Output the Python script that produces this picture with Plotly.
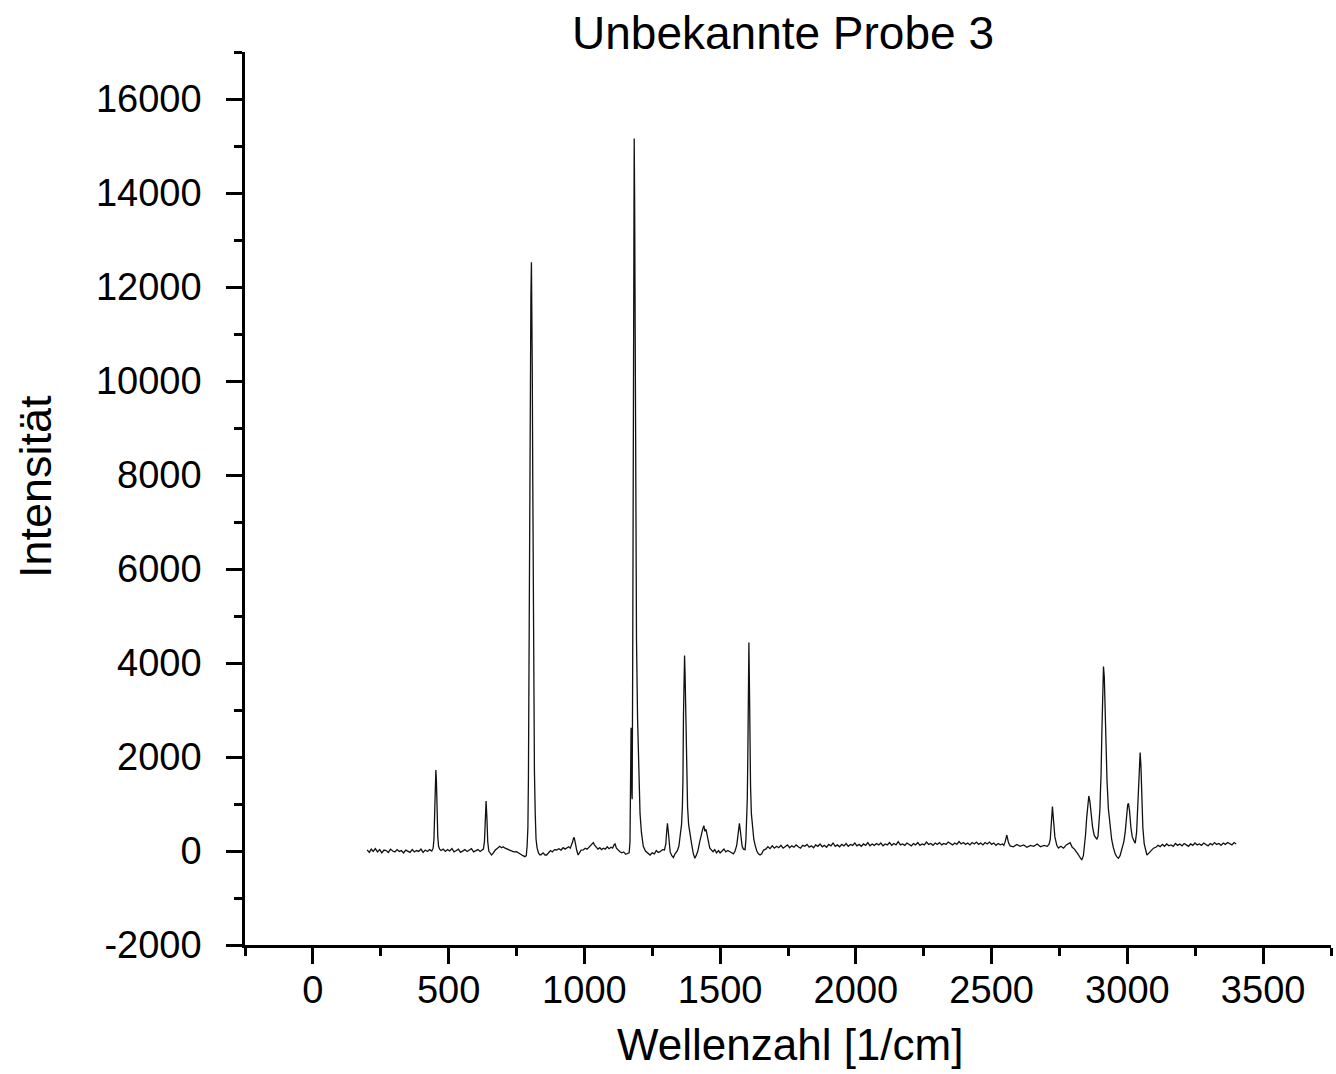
import plotly.graph_objects as go

# ---- Spectrum data (wavenumber in 1/cm, intensity) ----
wn_a = [200, 208, 215, 222, 230, 238, 246, 254, 262, 270, 278, 286, 294, 302, 310, 318, 326, 334, 342, 350,
        358, 366, 374, 382, 390, 398, 406, 414, 422, 430, 438,
        443, 446, 449, 451, 453, 455, 457, 460, 463, 467,
        472, 480, 488, 496, 504, 512, 520, 528, 536, 544, 552, 560, 568, 576, 584, 592, 600, 608, 616, 624,
        628, 632, 635, 638, 641, 644, 648, 653, 658,
        665, 672, 680, 688, 695, 701, 708, 716, 724, 732, 740, 750, 758, 766, 774, 781, 786]
int_a = [20, -30, 40, -10, 50, -20, 30, -40, 20, 10, -30, 40, 0, -20, 30, -10, 10, -40, 20, 0,
         -30, 30, -20, 10, -10, 40, -30, 20, -10, 30, 0,
         60, 250, 900, 1450, 1725, 1500, 900, 300, 100, 40,
         10, 40, -10, 30, 0, 50, -20, 20, 40, -30, 10, 30, -10, 20, 50, -20, 10, 30, -10, 20,
         40, 200, 700, 1065, 700, 200, 0, -60, -85,
         -40, 20, 60, 100, 70, 92, 60, 40, 20, 0, -20, -15, -50, -80, -100, -120, -100]

wn_b = [789, 792, 794, 795, 796, 797, 799, 801, 803, 805, 806, 808, 810, 812, 814, 816, 819, 822, 826, 831, 836,
        840, 848, 855, 861, 868, 875, 882, 890, 898, 906, 914, 922, 929, 935, 942, 948,
        953, 957, 960, 962, 965, 968, 972, 977,
        982, 988, 996, 1003, 1010, 1017, 1024, 1029, 1033, 1037, 1043, 1050, 1057, 1063, 1070, 1077, 1084,
        1091, 1098, 1104, 1109, 1113, 1118, 1124, 1131, 1138, 1145, 1152, 1160, 1165]
int_b = [100, 500, 1600, 3000, 4300, 4250, 7500, 10000, 11800, 12525, 12100, 10300, 7800, 5200, 3100, 1700, 800, 250, 60, -40, -80,
         -80, -40, -85, -85, -30, 10, -20, 30, 22, 50, 20, 70, 40, 60, 90, 60,
         120, 200, 270, 291, 220, 100, 10, -85,
         -30, 20, 22, 60, 40, 90, 120, 160, 180, 130, 80, 40, 70, 30, 60, 40, 90,
         50, 80, 60, 130, 150, 60, 20, -15, -40, -20, -70, -60, -40]

wn_c = [1168, 1170, 1172, 1173.5, 1175, 1176, 1178, 1180, 1182, 1183.5, 1185, 1187, 1189, 1192, 1196, 1200,
        1205, 1210, 1217, 1225, 1235, 1242, 1250, 1258, 1265, 1272, 1279, 1288, 1295,
        1300, 1303, 1306, 1309, 1312, 1316, 1322, 1328, 1334,
        1342, 1348, 1354, 1358, 1361, 1363, 1365, 1367, 1369, 1371, 1373, 1375, 1377, 1380, 1384, 1389,
        1395, 1401, 1407, 1413,
        1418, 1425, 1431, 1436, 1440, 1444, 1448, 1452, 1457, 1462, 1468, 1474, 1480, 1487, 1494, 1500,
        1507, 1514, 1521, 1528, 1536, 1542, 1549,
        1555, 1561, 1565, 1568, 1571, 1574, 1577, 1581, 1586, 1590,
        1592, 1595, 1598, 1600, 1602, 1604, 1606, 1608, 1610, 1612, 1615, 1619, 1624, 1629, 1635, 1641,
        1647, 1653, 1660]
int_c = [200, 1200, 2620, 2000, 1200, 1100, 4000, 9000, 13500, 15160, 14000, 11000, 7500, 4500, 2800, 1600,
         800, 400, 100, 0, -60, -85, -40, -60, 10, -30, -15, 30, 22,
         150, 400, 590, 420, 150, -20, -100, -140, -60,
         0, 100, 340, 570, 950, 1500, 2880, 3744, 4160, 3744, 2880, 2080, 1500, 950, 560, 330,
         150, -50, -155, -80,
         0, 200, 380, 470, 540, 420, 460, 300, 200, 60, 20, -15, 30, -40, 10, -40,
         0, 40, -20, 10, -15, -40, -60,
         0, 120, 300, 480, 590, 450, 250, 100, 40, 22,
         30, 250, 600, 1100, 2000, 3400, 4437, 3500, 2200, 1400, 800, 450, 250, 120, 0, -60,
         -85, -60, 20]

wn_d = [1668, 1676, 1684, 1692, 1700, 1708, 1716, 1724, 1732, 1740, 1748, 1756, 1764, 1772, 1780, 1788,
        1796, 1804, 1812, 1820, 1828, 1836, 1844, 1852, 1860, 1868, 1876, 1884, 1892, 1900, 1908, 1916,
        1924, 1932, 1940, 1948, 1956, 1964, 1972, 1980, 1988, 1996, 2004, 2012, 2020, 2028, 2036, 2044,
        2052, 2060, 2068, 2076, 2084, 2092, 2100, 2108, 2116, 2124, 2132, 2140, 2148, 2156, 2164, 2172,
        2180, 2188, 2196, 2204, 2212, 2220, 2228, 2236, 2244, 2252, 2260, 2268, 2276, 2284, 2292, 2300,
        2308, 2316, 2324, 2332, 2340, 2348, 2356, 2364, 2372, 2380, 2388, 2396, 2404, 2412, 2420, 2428,
        2436, 2444, 2452, 2460, 2468, 2476, 2484, 2492, 2500, 2508, 2516, 2524, 2532, 2540]
int_d = [40, 90, 50, 110, 60, 100, 70, 120, 60, 90, 130, 70, 110, 80, 130, 90,
         60, 120, 100, 140, 80, 110, 70, 130, 100, 150, 90, 120, 80, 140, 110, 170,
         100, 130, 90, 140, 110, 160, 100, 140, 120, 170, 110, 140, 100, 150, 120, 180,
         110, 150, 120, 160, 130, 170, 110, 150, 130, 180, 120, 160, 130, 200, 130, 150,
         120, 170, 140, 110, 160, 130, 180, 120, 150, 130, 190, 140, 160, 120, 170, 140,
         180, 130, 160, 140, 190, 150, 130, 170, 140, 200, 150, 180, 140, 170, 130, 180,
         150, 190, 140, 170, 130, 180, 150, 190, 140, 170, 120, 160, 130, 150]

wn_e = [2545, 2550, 2556, 2562, 2568, 2580, 2593, 2605, 2618, 2630, 2643, 2655, 2668, 2680, 2693, 2705, 2712,
        2716, 2720, 2724, 2728, 2733, 2740, 2746, 2755, 2765, 2775, 2789, 2797, 2805, 2815, 2825, 2832, 2838,
        2842, 2846, 2850, 2854, 2858, 2862, 2866, 2872, 2878, 2884, 2888, 2892, 2896,
        2899, 2901, 2903, 2906, 2909, 2912, 2915, 2918, 2921, 2925, 2930, 2936, 2942, 2948, 2955, 2962,
        2967, 2973, 2980, 2987,
        2992, 2997, 3001, 3004, 3008, 3013, 3018, 3024, 3029,
        3034, 3038, 3041, 3044, 3047, 3050, 3053, 3057, 3062, 3067, 3072, 3080, 3088, 3096]
int_e = [120, 200, 340, 180, 110, 90, 140, 100, 130, 80, 120, 100, 150, 90, 120, 100, 150,
         250, 600, 944, 650, 300, 120, 64, 100, 60, 130, 177, 80, 40, -40, -120, -192, -100,
         100, 350, 700, 1000, 1171, 1050, 800, 500, 330, 260, 249, 320, 600,
         900, 1300, 1600, 2500, 3400, 3926, 3700, 3000, 2200, 1500, 900, 500, 250, 80, -60, -130,
         -156, -100, 50, 200,
         400, 750, 980, 1016, 850, 500, 300, 220, 164,
         400, 900, 1500, 1950, 2094, 1800, 1100, 500, 150, 0, -85, -40, 20, 60]

wn_f = [3105, 3113, 3121, 3129, 3137, 3145, 3153, 3161, 3169, 3177, 3185, 3193, 3201, 3209, 3217, 3225,
        3233, 3241, 3249, 3257, 3265, 3273, 3281, 3289, 3297, 3305, 3313, 3321, 3329, 3337, 3345, 3353,
        3361, 3369, 3377, 3385, 3393, 3401]
int_f = [80, 120, 92, 140, 100, 150, 110, 130, 100, 160, 120, 150, 110, 160, 130, 100,
         150, 120, 170, 130, 150, 120, 170, 140, 110, 160, 130, 180, 140, 160, 120, 170,
         140, 180, 150, 130, 180, 150]

wavenumber = wn_a + wn_b + wn_c + wn_d + wn_e + wn_f
intensity = int_a + int_b + int_c + int_d + int_e + int_f

# ---- Axis ticks ----
x_tickvals = [0, 500, 1000, 1500, 2000, 2500, 3000, 3500]
x_ticktext = ["0", "500", "1000", "1500", "2000", "2500", "3000", "3500"]
y_tickvals = [-2000, 0, 2000, 4000, 6000, 8000, 10000, 12000, 14000, 16000]
y_ticktext = ["-2000", "0", "2000", "4000", "6000", "8000", "10000", "12000", "14000", "16000"]

title_text = "Unbekannte Probe 3"
x_title = "Wellenzahl [1/cm]"
y_title = "Intensität"

FONT = "Arial, Liberation Sans, Helvetica, sans-serif"

fig = go.Figure()
fig.add_trace(go.Scatter(
    x=wavenumber, y=intensity, mode="lines",
    line=dict(color="#111111", width=1.3),
    showlegend=False, hoverinfo="skip",
))

axis_common = dict(
    showline=True, linecolor="black", linewidth=2.5,
    showgrid=False, zeroline=False, mirror=False,
    ticks="outside", tickcolor="black", tickwidth=2.5,
    tickfont=dict(family=FONT, size=38, color="black"),
)

fig.update_layout(
    width=1336, height=1074,
    margin=dict(l=245, r=5, t=52, b=129),
    paper_bgcolor="white", plot_bgcolor="white",
    title=dict(text=title_text, x=783 / 1336, xanchor="center", y=1 - 33 / 1074, yanchor="middle",
               font=dict(family=FONT, size=46, color="black")),
    xaxis=dict(range=[-250, 3750], tickmode="array", tickvals=x_tickvals, ticktext=x_ticktext, ticklen=16,
               ticklabelstandoff=-6,
               minor=dict(dtick=250, tick0=0, ticklen=8, tickwidth=2.5, tickcolor="black", ticks="outside"),
               **axis_common),
    yaxis=dict(range=[-2000, 17000], tickmode="array", tickvals=y_tickvals, ticktext=y_ticktext, ticklen=16,
               ticklabelstandoff=17,
               minor=dict(dtick=1000, tick0=0, ticklen=8, tickwidth=2.5, tickcolor="black", ticks="outside"),
               **axis_common),
    annotations=[
        dict(text=x_title, xref="paper", yref="paper", x=(790 - 245) / 1086, y=(945 - 1044) / 893,
             xanchor="center", yanchor="middle", showarrow=False,
             font=dict(family=FONT, size=44, color="black")),
        dict(text=y_title, xref="paper", yref="paper", x=(35 - 245) / 1086, y=(945 - 487) / 893,
             xanchor="center", yanchor="middle", showarrow=False, textangle=-90,
             font=dict(family=FONT, size=45, color="black")),
    ],
)

fig.write_html("out.html")
